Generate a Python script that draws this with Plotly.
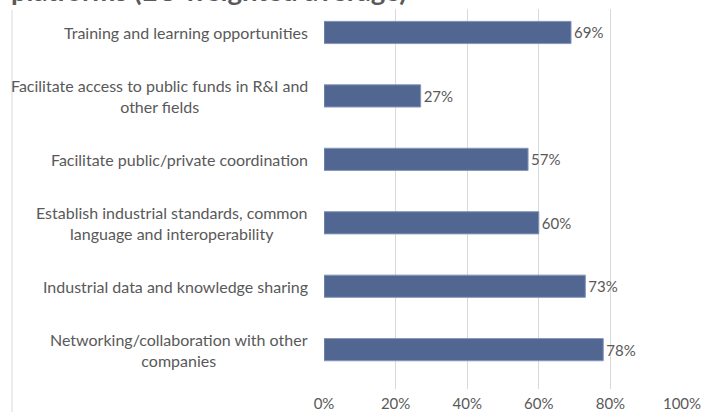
import plotly.graph_objects as go

# categories listed bottom to top (plotly draws category 0 at the bottom)
labels = [
    "Networking/collaboration with other<br>companies",
    "Industrial data and knowledge sharing",
    "Establish industrial standards, common<br>language and interoperability",
    "Facilitate public/private coordination",
    "Facilitate access to public funds in R&I and<br>other fields",
    "Training and learning opportunities",
]
values = [0.78, 0.73, 0.60, 0.57, 0.27, 0.69]
value_text = ["78%", "73%", "60%", "57%", "27%", "69%"]
x_ticks = [0, 0.2, 0.4, 0.6, 0.8, 1.0]
x_tick_text = ["0%", "20%", "40%", "60%", "80%", "100%"]
title_text = "platforms (EU weighted average)"

grey = "#595959"
font_name = "Lato"

fig = go.Figure()
fig.add_trace(go.Bar(
    x=values,
    y=labels,
    orientation="h",
    width=0.35,
    marker=dict(color="#516792", line=dict(color="#8596b8", width=1)),
    text=value_text,
    textposition="outside",
    textfont=dict(family=font_name, size=15, color=grey),
    cliponaxis=False,
))

# category labels: block right-aligned next to the axis, lines centred
annotations = []
for lab in labels:
    annotations.append(dict(
        x=0, xref="paper", xanchor="right", xshift=-14,
        y=lab, yref="y", yanchor="middle",
        text=lab, showarrow=False, align="center",
        font=dict(family=font_name, size=16, color=grey),
    ))

# chart title, mostly cut off by the top edge as in the source image
annotations.append(dict(
    x=-0.8715, xref="paper", xanchor="left", xshift=-3,
    y=1.0, yref="paper", yanchor="bottom", yshift=0,
    text="<b>" + title_text + "</b>", showarrow=False,
    font=dict(family=font_name, size=27.5, color=grey),
))

fig.update_layout(
    width=707, height=412,
    margin=dict(l=324, r=25, t=9, b=23, autoexpand=False),
    paper_bgcolor="white", plot_bgcolor="white",
    showlegend=False,
    annotations=annotations,
    shapes=[dict(type="line", xref="paper", yref="paper",
                 x0=-0.8715, x1=-0.8715, y0=0.997, y1=-0.07,
                 line=dict(color="#d9d9d9", width=1))],
)
fig.update_xaxes(
    range=[0, 1.0], tickvals=x_ticks, ticktext=x_tick_text,
    showgrid=True, gridcolor="#d9d9d9", gridwidth=1,
    zeroline=False, showline=False, ticks="", automargin=False,
    ticklabelstandoff=4,
    tickfont=dict(family=font_name, size=15, color=grey),
)
fig.update_yaxes(
    range=[-0.62, 5.37], showticklabels=False, showgrid=False,
    zeroline=False, showline=False, ticks="", automargin=False,
)

# drop the browser's default 8px body margin so the figure sits at 0,0
fig.write_html("out.html", config={"displayModeBar": False},
               post_script="document.body.style.margin='0';")
